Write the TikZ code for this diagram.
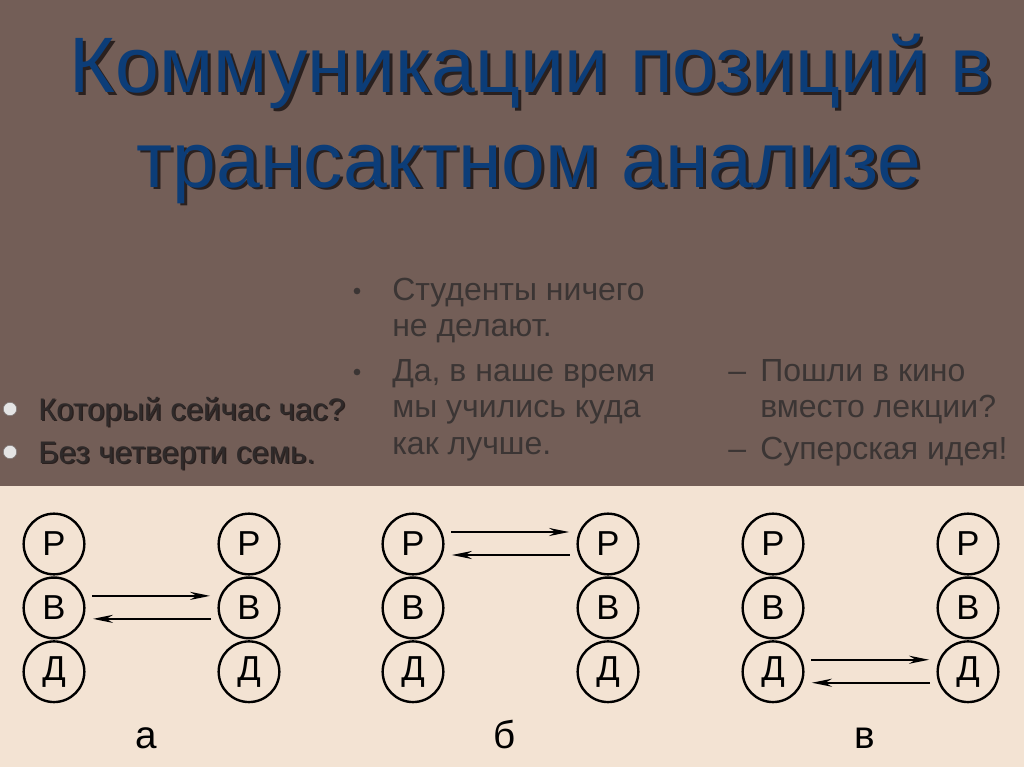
\documentclass[tikz,border=0pt]{standalone}
\usepackage{fontspec}
\setmainfont{Liberation Sans}
\usetikzlibrary{positioning,arrows.meta}
\definecolor{slidebrown}{HTML}{735E57}
\definecolor{slidebeige}{HTML}{F3E3D3}
\definecolor{titleblue}{HTML}{0C3D78}
\definecolor{shadowdark}{HTML}{2A201E}
\definecolor{textgray}{HTML}{3B3534}
\definecolor{bulletgray}{HTML}{E4E4E4}
\newcommand{\dropshadow}[3]{\rlap{\hspace{#1}\raisebox{-#1}{\color{#2}#3}}#3}
\tikzset{
  egostate/.style={circle,draw,line width=1.8pt,minimum size=45.5pt,inner sep=0pt,font=\fontsize{26}{26}\selectfont},
  transact/.style={-{Stealth[length=15pt,width=6pt]},line width=1.8pt,shorten <=5pt,shorten >=5.5pt},
  titletext/.style={anchor=base,inner sep=0pt,text=titleblue,font=\fontsize{59}{59}\selectfont},
  asktext/.style={anchor=base west,inner sep=0pt,text=textgray!80!black,font=\fontsize{23.4}{23.4}\selectfont},
  dlgtext/.style={anchor=base west,inner sep=0pt,text=textgray,font=\fontsize{24}{24}\selectfont}
}

\begin{document}
\begin{tikzpicture}[x=0.75pt,y=-0.75pt]
    \useasboundingbox (0,0) rectangle (1024,767);
    \fill[slidebrown] (0,0) rectangle (1024,486);
    \fill[slidebeige] (0,486) rectangle (1024,767);

    % title
    \node[titletext] (title1) at (531,93) {\dropshadow{2.2pt}{shadowdark}{Коммуникации позиций в}};
    \node[titletext] (title2) at (529,187) {\dropshadow{2.2pt}{shadowdark}{трансактном анализе}};

    % left question
    \foreach \y/\txt [count=\i] in {420/Который сейчас час?,463/Без четверти семь.}{
        \node[circle,fill=bulletgray,draw=shadowdark!60,line width=0.4pt,minimum size=10pt,inner sep=0pt] (qb\i) at (10,\y-11) {};
        \node[asktext] (q\i) at (38,\y) {\dropshadow{1.1pt}{shadowdark}{\txt}};
    }

    % middle dialogue
    \node[circle,fill=textgray,minimum size=5pt,inner sep=0pt] (sb1) at (357,291) {};
    \node[circle,fill=textgray,minimum size=5pt,inner sep=0pt] (sb2) at (357,372) {};
    \node[dlgtext] (s1) at (392,300) {Студенты ничего};
    \node[dlgtext] (s2) at (392,336) {не делают.};
    \node[dlgtext] (s3) at (392,381) {Да, в наше время};
    \node[dlgtext] (s4) at (392,417) {мы учились куда};
    \node[dlgtext] (s5) at (392,454) {как лучше.};

    % right dialogue
    \node[dlgtext] (td1) at (728,381) {–};
    \node[dlgtext] (t1) at (760,381) {Пошли в кино};
    \node[dlgtext] (t2) at (760,417) {вместо лекции?};
    \node[dlgtext] (td3) at (728,459) {–};
    \node[dlgtext] (t3) at (760,459) {Суперская идея!};

    % ego states and transactions
    \foreach \g/\x/\s/\lab in {a/54/B/а,b/413/P/б,c/773/D/в}{
        \node[egostate] (\g LP) at (\x,544) {Р};
        \node[egostate,below=0.6pt of \g LP] (\g LB) {В};
        \node[egostate,below=0.6pt of \g LB] (\g LD) {Д};
        \node[egostate] (\g RP) at (\x+195,544) {Р};
        \node[egostate,below=0.6pt of \g RP] (\g RB) {В};
        \node[egostate,below=0.6pt of \g RB] (\g RD) {Д};
        \draw[transact] ([yshift=9pt]\g L\s.east) -- ([yshift=9pt]\g R\s.west);
        \draw[transact] ([yshift=-8.25pt]\g R\s.west) -- ([yshift=-8.25pt]\g L\s.east);
        \node[anchor=base,font=\fontsize{29}{29}\selectfont] (\g lab) at (\x+92,748) {\lab};
    }
\end{tikzpicture}
\end{document}
